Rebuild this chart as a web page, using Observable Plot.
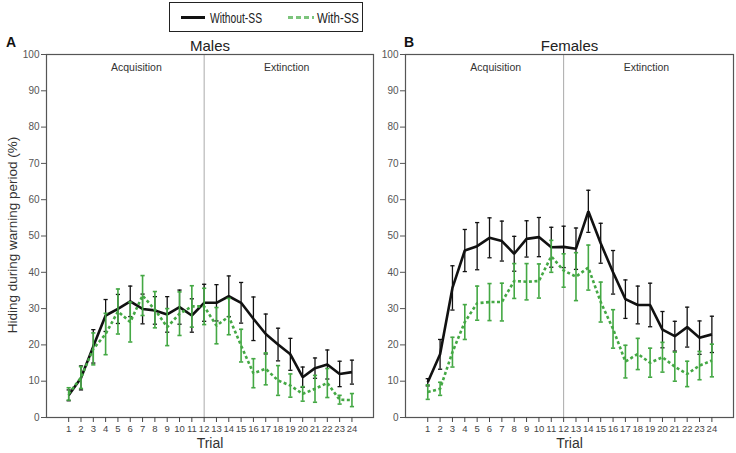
<!DOCTYPE html>
<html>
<head>
<meta charset="utf-8">
<script src="https://cdn.jsdelivr.net/npm/d3@7"></script>
<script src="https://cdn.jsdelivr.net/npm/@observablehq/plot@0.6"></script>
<style>
  html, body { margin: 0; padding: 0; background: #fff; }
  #wrap { position: relative; width: 736px; height: 453px; font-family: "Liberation Sans", Arial, sans-serif; overflow: hidden; }
  .abs { position: absolute; }
  #legend { left: 169px; top: 2px; width: 194px; height: 30px; border: 1px solid #222; box-sizing: border-box; }
  .plab { font-weight: bold; font-size: 14px; color: #111; }
  #ylab { left: 12px; top: 235px; transform: translate(-50%, -50%) rotate(-90deg); font-size: 13.5px; color: #333; white-space: nowrap; }
  svg { overflow: visible; }
</style>
</head>
<body>
<div id="wrap">
  <div id="legend" class="abs">
    <svg width="194" height="30" style="position:absolute;left:0;top:0">
      <line x1="11" x2="35" y1="14.5" y2="14.5" stroke="#111" stroke-width="3"/>
      <text x="40" y="19.5" font-size="14" fill="#222" textLength="52" lengthAdjust="spacingAndGlyphs" font-family="Liberation Sans, Arial, sans-serif">Without-SS</text>
      <line x1="118" x2="144" y1="14.5" y2="14.5" stroke="#7cc47c" stroke-width="3" stroke-dasharray="5,3"/>
      <text x="147" y="19.5" font-size="14" fill="#222" textLength="42" lengthAdjust="spacingAndGlyphs" font-family="Liberation Sans, Arial, sans-serif">With-SS</text>
    </svg>
  </div>
  <div class="abs plab" style="left:6px;top:34px">A</div>
  <div class="abs plab" style="left:404px;top:34px">B</div>
  <div id="ylab" class="abs">Hiding during warning period (%)</div>
  <div id="panelA" class="abs" style="left:0;top:0"></div>
  <div id="panelB" class="abs" style="left:380px;top:0"></div>
</div>
<script>
// ---- data ----
const trials = [1,2,3,4,5,6,7,8,9,10,11,12,13,14,15,16,17,18,19,20,21,22,23,24];
const yTicks = [0,10,20,30,40,50,60,70,80,90,100];
const phaseBoundary = 12;
const phaseLabels = ["Acquisition", "Extinction"];
const phaseLabelTrials = [6.5, 18.7];
const seriesNames = ["Without-SS", "With-SS"];

const malesWithout    = [6.1,10.9,19.6,28.1,29.9,32.0,29.9,29.5,28.4,30.4,28.1,31.6,31.6,33.4,31.6,27.2,23.0,20.1,17.4,11.1,13.6,14.6,12.0,12.5];
const malesWithoutErr = [1.5,3.3,4.6,4.4,4.0,4.2,4.1,3.8,4.9,4.7,4.6,5.1,5.0,5.6,5.6,6.0,5.5,4.5,4.4,2.8,2.8,4.0,3.5,3.3];
const malesWith       = [6.5,11.0,18.9,23.0,29.2,26.3,33.6,29.7,24.9,28.6,30.6,30.6,25.3,27.8,19.8,12.2,13.4,10.2,8.8,6.5,7.9,9.5,4.9,4.8];
const malesWithErr    = [1.7,3.0,4.4,5.7,6.2,5.5,5.5,5.0,5.1,6.0,5.7,5.0,5.0,5.0,4.5,4.0,4.4,4.1,3.2,2.0,3.7,4.0,1.2,1.8];

const femalesWithout    = [9.7,17.4,35.7,46.0,47.2,49.5,48.6,45.1,49.2,49.7,46.9,47.0,46.5,56.8,48.0,40.0,32.6,31.0,31.0,24.2,22.4,24.9,22.0,22.9];
const femalesWithoutErr = [1.0,4.1,6.1,5.8,6.5,5.5,5.5,4.8,5.0,5.4,5.5,5.7,5.7,5.8,5.5,6.0,5.3,5.2,6.0,5.0,4.1,5.5,4.6,5.0];
const femalesWith       = [7.0,7.9,18.0,26.3,31.5,31.8,31.8,37.6,37.4,37.6,44.4,40.5,38.8,41.3,31.8,24.4,15.4,17.5,15.1,16.6,14.0,12.0,14.3,15.7];
const femalesWithErr    = [2.0,1.8,4.1,4.8,4.7,5.1,5.2,4.8,5.0,4.7,4.4,4.6,6.6,6.2,5.5,5.3,4.5,4.3,4.0,4.1,4.0,3.5,3.9,4.5];

const BLACK = "#111";
const GREEN = "#44a844";

function rows(vals, errs, series) {
  return trials.map((t, i) => ({trial: t, value: vals[i], lo: vals[i] - errs[i], hi: vals[i] + errs[i], series}));
}

function panel(title, without, withSS, opts) {
  const capHalf = 0.17;
  const marks = [];
  marks.push(Plot.ruleX([phaseBoundary], {y1: 0, y2: 100, stroke: "#aaa", strokeWidth: 1}));
  marks.push(Plot.frame({stroke: "#555", strokeWidth: 1.2}));
  marks.push(Plot.axisY({ticks: yTicks, tickSize: 5, tickPadding: 2, fontSize: 10, color: "#555", label: null}));
  marks.push(Plot.axisX({ticks: trials, tickSize: 5, tickPadding: 3, fontSize: 9.5, color: "#444", label: null, tickFormat: d => String(d), letterSpacing: "-0.4px"}));
  marks.push(Plot.text(phaseLabels, {x: (d, i) => phaseLabelTrials[i], y: 96.4, text: d => d, fontSize: 10.5, fill: "#333"}));
  marks.push(Plot.text([title], {frameAnchor: "top", dy: -14, fontSize: 15, fill: "#222"}));
  marks.push(Plot.text(["Trial"], {frameAnchor: "bottom", dy: 30, fontSize: 14, fill: "#333"}));
  for (const [data, color, ew, lw, dash] of [[without, BLACK, 1.3, 2.6, null], [withSS, GREEN, 1.6, 2.6, "3,2.5"]]) {
    marks.push(Plot.ruleX(data, {x: "trial", y1: "lo", y2: "hi", stroke: color, strokeWidth: ew}));
    marks.push(Plot.link(data, {x1: d => d.trial - capHalf, x2: d => d.trial + capHalf, y1: "hi", y2: "hi", stroke: color, strokeWidth: ew}));
    marks.push(Plot.link(data, {x1: d => d.trial - capHalf, x2: d => d.trial + capHalf, y1: "lo", y2: "lo", stroke: color, strokeWidth: ew}));
    marks.push(Plot.line(data, {x: "trial", y: "value", stroke: color, strokeWidth: lw, strokeDasharray: dash, strokeLinecap: "butt", strokeLinejoin: "miter"}));
  }
  return Plot.plot({
    width: opts.width, height: 453,
    marginLeft: opts.ml, marginRight: opts.mr, marginTop: 54, marginBottom: 36,
    x: {domain: [-0.8, 25.75], axis: null},
    y: {domain: [0, 100], axis: null},
    style: {fontFamily: "Liberation Sans, Arial, sans-serif", background: "transparent"},
    marks
  });
}

document.getElementById("panelA").append(panel("Males", rows(malesWithout, malesWithoutErr, seriesNames[0]), rows(malesWith, malesWithErr, seriesNames[1]), {width: 380, ml: 46, mr: 7}));
document.getElementById("panelB").append(panel("Females", rows(femalesWithout, femalesWithoutErr, seriesNames[0]), rows(femalesWith, femalesWithErr, seriesNames[1]), {width: 356, ml: 25, mr: 3}));
</script>
</body>
</html>
